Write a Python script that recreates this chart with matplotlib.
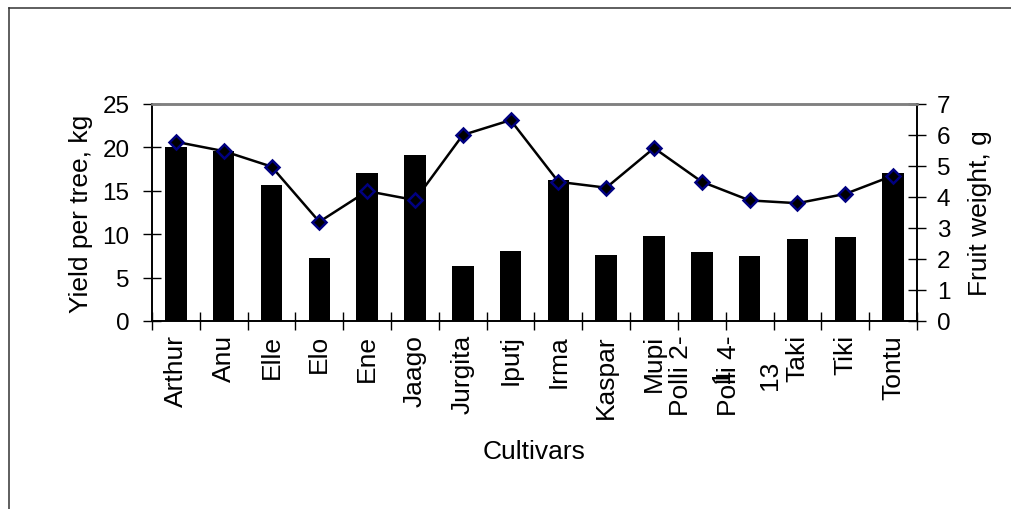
import matplotlib
matplotlib.use("Agg")
import matplotlib.pyplot as plt
from matplotlib.lines import Line2D
import numpy as np

# data
cultivars = ["Arthur", "Anu", "Elle", "Elo", "Ene", "Jaago", "Jurgita", "Iputj",
             "Irma", "Kaspar", "Mupi", "Polli 2-\n1", "Polli 4-\n13", "Taki",
             "Tiki", "Tontu"]
yield_kg = [20.1, 19.6, 15.7, 7.3, 17.0, 19.1, 6.3, 8.1,
            16.3, 7.6, 9.8, 7.9, 7.5, 9.4, 9.7, 17.0]
fruit_weight = [5.78, 5.48, 4.98, 3.2, 4.19, 3.9, 6.0, 6.48,
                4.49, 4.3, 5.58, 4.49, 3.89, 3.8, 4.1, 4.69]

plt.rcParams['font.family'] = ['Liberation Sans', 'DejaVu Sans']
fs_lab = 19
fs_x = 19
fs_y = 17.5

fig = plt.figure(figsize=(10.12, 5.1), dpi=100)
ax = fig.add_axes([152 / 1012, 188 / 510, 765 / 1012, 217 / 510])
ax2 = ax.twinx()

x = np.arange(len(cultivars))
ax.bar(x, yield_kg, width=0.45, color='black', zorder=2)
ax2.plot(x, fruit_weight, color='black', lw=1.8, marker='D', ms=7,
         mfc='black', mec='#000080', mew=1.8, zorder=3)

ax.set_xlim(-0.5, len(cultivars) - 0.5)
ax.set_ylim(0, 25)
ax2.set_ylim(0, 7)
ax.set_yticks(range(0, 26, 5))
ax2.set_yticks(range(0, 8))

# category labels at centres, tick marks at the boundaries
ax.set_xticks(x)
ax.set_xticklabels(cultivars, rotation=90, fontsize=fs_x, linespacing=1.9)
ax.set_xticks(np.arange(len(cultivars) + 1) - 0.5, minor=True)
ax.tick_params(axis='x', which='major', length=0, pad=9.5)
ax.tick_params(axis='x', which='minor', direction='inout', length=12.5, width=1)
ax.tick_params(axis='y', direction='inout', length=12.5, width=1, labelsize=fs_y, pad=10)
ax2.tick_params(axis='y', direction='inout', length=12.5, width=1, labelsize=fs_y, pad=8)

for a in (ax, ax2):
    for s in ('left', 'right', 'bottom'):
        a.spines[s].set_color('black')
        a.spines[s].set_linewidth(1.2)
    a.spines['top'].set_color('#808080')
    a.spines['top'].set_linewidth(1.8)

ax.set_ylabel("Yield per tree, kg", fontsize=fs_lab, va='center')
ax.yaxis.set_label_coords(-0.093, 0.5)
ax2.set_ylabel("Fruit weight, g", fontsize=fs_lab, va='center', rotation=90)
ax2.yaxis.set_label_coords(1.082, 0.5)
ax.set_xlabel("Cultivars", fontsize=fs_lab, va='center')
ax.xaxis.set_label_coords(0.5, -0.6)

# chart area frame: only top and left edges fall inside the image
fx = 8.5 / 1012
fy = 1 - 9 / 510
fig.add_artist(Line2D([fx, 1.0], [fy, fy], transform=fig.transFigure,
                      color='#333333', lw=1.1))
fig.add_artist(Line2D([fx, fx], [0.0, fy], transform=fig.transFigure,
                      color='#333333', lw=1.1))

fig.savefig("out.png", dpi=100)
